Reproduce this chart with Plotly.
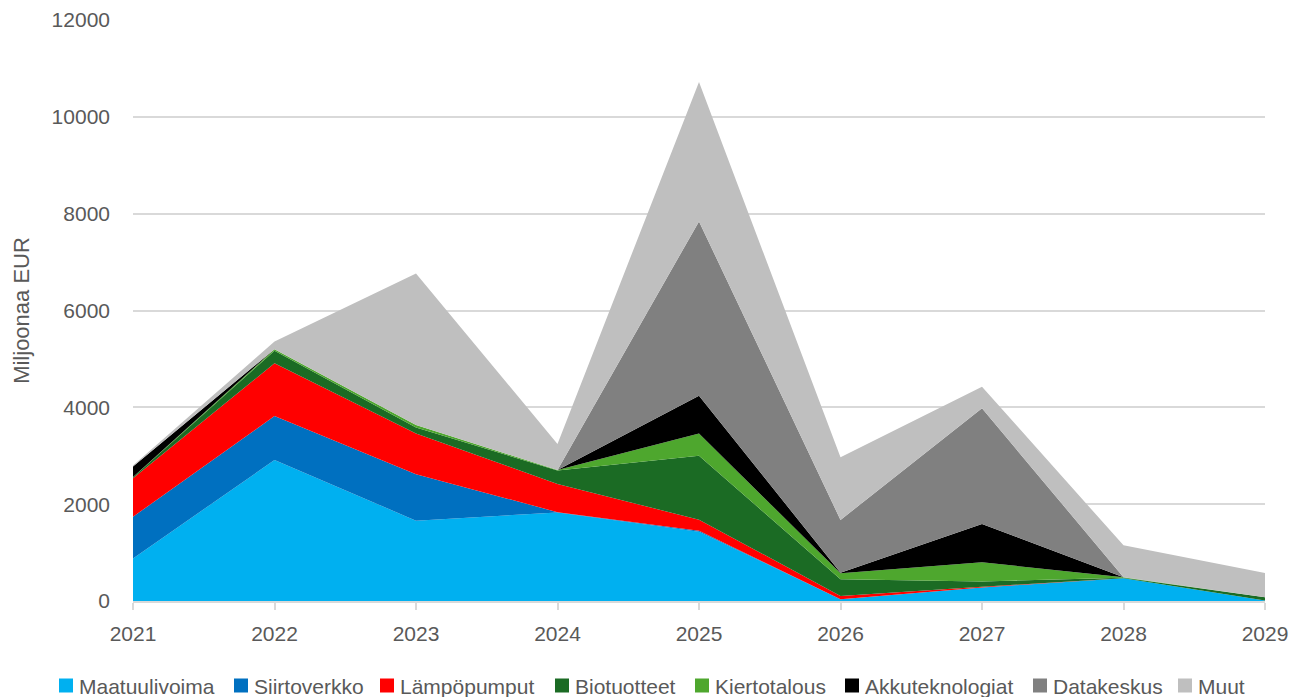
import plotly.graph_objects as go

years = [2021, 2022, 2023, 2024, 2025, 2026, 2027, 2028, 2029]

maatuulivoima = [880, 2910, 1660, 1830, 1430, 35, 280, 470, 10]
siirtoverkko = [860, 910, 960, 5, 20, 0, 0, 0, 0]
lampopumput = [795, 1090, 840, 580, 230, 70, 15, 0, 0]
biotuotteet = [20, 260, 125, 280, 1320, 345, 110, 10, 70]
kiertotalous = [5, 30, 50, 10, 460, 124, 395, 10, 0]
akkuteknologiat = [220, 0, 0, 0, 780, 10, 790, 0, 0]
datakeskus = [0, 0, 0, 0, 3600, 1090, 2390, 0, 0]
muut = [20, 160, 3130, 540, 2880, 1294, 445, 660, 500]

names = ["Maatuulivoima", "Siirtoverkko", "Lämpöpumput", "Biotuotteet",
         "Kiertotalous", "Akkuteknologiat", "Datakeskus", "Muut"]
values = [maatuulivoima, siirtoverkko, lampopumput, biotuotteet,
          kiertotalous, akkuteknologiat, datakeskus, muut]
colors = ["#00B0F0", "#0070C0", "#FF0000", "#1B6B24",
          "#4EA72E", "#000000", "#808080", "#BFBFBF"]

# legend layout (pixel positions of each entry's swatch)
legend_px = [59, 234, 380, 555, 695, 845, 1033, 1178]

W, H = 1292, 697
ML, MR, MT, MB = 133, 27, 20, 96
PW, PH = W - ML - MR, H - MT - MB


def px_x(px):
    return (px - ML) / PW


def px_y(py):
    return (H - MB - py) / PH


fig = go.Figure()
for name, vals, color in zip(names, values, colors):
    fig.add_trace(go.Scatter(
        x=years, y=vals, name=name, mode="lines",
        stackgroup="one", line=dict(width=0, color=color),
        fillcolor=color, showlegend=False,
    ))

font_color = "#595959"
font_family = "Liberation Sans, Arial, sans-serif"

shapes = []
annotations = []
legend_cy = 685.5
for name, color, sx in zip(names, colors, legend_px):
    shapes.append(dict(
        type="rect", xref="paper", yref="paper",
        x0=px_x(sx), x1=px_x(sx + 14),
        y0=px_y(legend_cy + 7), y1=px_y(legend_cy - 7),
        fillcolor=color, line=dict(width=0),
    ))
    annotations.append(dict(
        xref="paper", yref="paper", x=px_x(sx + 18), y=px_y(legend_cy + 1),
        xanchor="left", yanchor="middle", text=name, showarrow=False,
        font=dict(size=21, color=font_color, family=font_family),
    ))

fig.update_layout(
    width=W, height=H,
    paper_bgcolor="white", plot_bgcolor="white",
    margin=dict(l=ML, r=MR, t=MT, b=MB),
    font=dict(family=font_family, size=21, color=font_color),
    showlegend=False,
    shapes=shapes,
    annotations=annotations,
    xaxis=dict(
        range=[2021, 2029], tickmode="array", tickvals=years,
        ticktext=[str(y) for y in years],
        showgrid=False, zeroline=False, automargin=False,
        showline=True, linecolor="#D9D9D9", linewidth=2,
        ticks="outside", ticklen=7, tickwidth=1.5, tickcolor="#D9D9D9",
        tickfont=dict(size=21, color=font_color),
        ticklabelstandoff=6,
    ),
    yaxis=dict(
        range=[0, 12000], tickmode="array",
        tickvals=[0, 2000, 4000, 6000, 8000, 10000, 12000],
        ticktext=["0", "2000", "4000", "6000", "8000", "10000", "12000"],
        showgrid=True, gridcolor="#D9D9D9", gridwidth=1.5,
        zeroline=False, showline=False, automargin=False,
        tickfont=dict(size=21, color=font_color),
        title=dict(text="Miljoonaa EUR", font=dict(size=22, color=font_color), standoff=15),
        ticklabelstandoff=22,
    ),
)

fig.write_html(
    "out.html",
    config={"displayModeBar": False},
    post_script="document.body.style.margin='0';document.body.style.overflow='hidden';",
)
